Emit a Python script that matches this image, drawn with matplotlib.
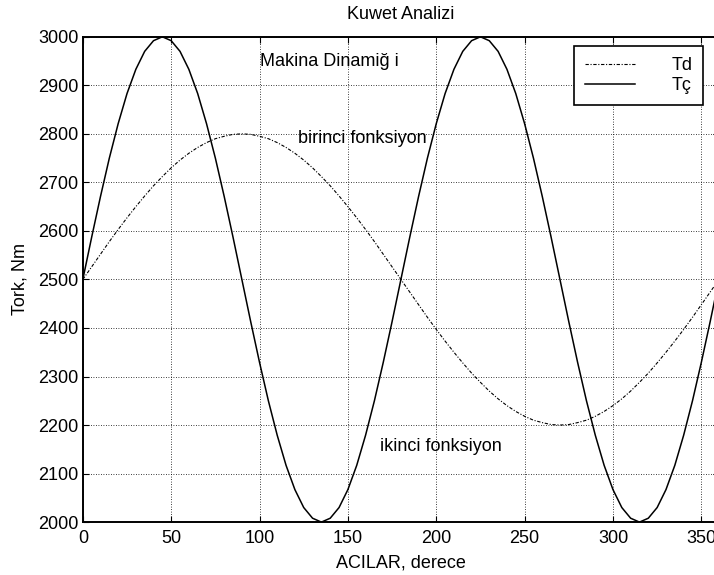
import matplotlib.pyplot as plt

plt.rcParams['font.family'] = ['Liberation Sans', 'DejaVu Sans']

# aci degerleri (derece), 5 derece aralikla
acilar = list(range(0, 361, 5))

# birinci fonksiyon, Td
td = [2500, 2526, 2552, 2578, 2603, 2627, 2650, 2672, 2693, 2712, 2730, 2746, 2760, 2772, 2782, 2790, 2795, 2799, 2800,
      2799, 2795, 2790, 2782, 2772, 2760, 2746, 2730, 2712, 2693, 2672, 2650, 2627, 2603, 2578, 2552, 2526, 2500,
      2474, 2448, 2422, 2397, 2373, 2350, 2328, 2307, 2288, 2270, 2254, 2240, 2228, 2218, 2210, 2205, 2201, 2200,
      2201, 2205, 2210, 2218, 2228, 2240, 2254, 2270, 2288, 2307, 2328, 2350, 2373, 2397, 2422, 2448, 2474, 2500]

# ikinci fonksiyon, Tc
tc = [2500, 2587, 2671, 2750, 2821, 2883, 2933, 2970, 2992, 3000,
      2992, 2970, 2933, 2883, 2821, 2750, 2671, 2587, 2500,
      2413, 2329, 2250, 2179, 2117, 2067, 2030, 2008, 2000,
      2008, 2030, 2067, 2117, 2179, 2250, 2329, 2413, 2500,
      2587, 2671, 2750, 2821, 2883, 2933, 2970, 2992, 3000,
      2992, 2970, 2933, 2883, 2821, 2750, 2671, 2587, 2500,
      2413, 2329, 2250, 2179, 2117, 2067, 2030, 2008, 2000,
      2008, 2030, 2067, 2117, 2179, 2250, 2329, 2413, 2500]

x_ticks = [0, 50, 100, 150, 200, 250, 300, 350]
y_ticks = list(range(2000, 3001, 100))

fs = 13

fig = plt.figure(figsize=(7.14, 5.75), dpi=100)
ax = fig.add_axes([0.116, 0.092, 0.891, 0.844])

ax.plot(acilar, td, color='black', lw=0.8, dashes=(3, 1.5, 1, 1.5), label='Td')
ax.plot(acilar, tc, color='black', lw=1.1, label='Tç')

ax.set_xlim(0, 360)
ax.set_ylim(2000, 3000)
ax.set_xticks(x_ticks)
ax.set_yticks(y_ticks)
ax.tick_params(direction='in', top=True, right=True, labelsize=fs, length=4)
ax.tick_params(axis='x', pad=6)
ax.tick_params(axis='y', pad=3)
ax.grid(True, color='black', linestyle=(0, (1, 2)), lw=0.6)
for s in ax.spines.values():
    s.set_linewidth(1.4)

ax.set_title('Kuwet Analizi', fontsize=fs, pad=13)
ax.set_xlabel('ACILAR, derece', fontsize=fs, labelpad=5)
ax.set_ylabel('Tork, Nm', fontsize=fs, labelpad=7)

ax.text(100, 2950, 'Makina Dinamiğ i', fontsize=fs, va='center')
ax.text(122, 2790, 'birinci fonksiyon', fontsize=fs, va='center')
ax.text(168, 2155, 'ikinci fonksiyon', fontsize=fs, va='center')

leg = ax.legend(loc='upper right', bbox_to_anchor=(0.9846, 0.92), bbox_transform=fig.transFigure,
                borderaxespad=0, fancybox=False, edgecolor='black', framealpha=1, fontsize=fs,
                handlelength=2.8, handletextpad=2.0, borderpad=0.6, labelspacing=0.2)
leg.get_frame().set_linewidth(1.2)

fig.savefig('out.png', dpi=100)
